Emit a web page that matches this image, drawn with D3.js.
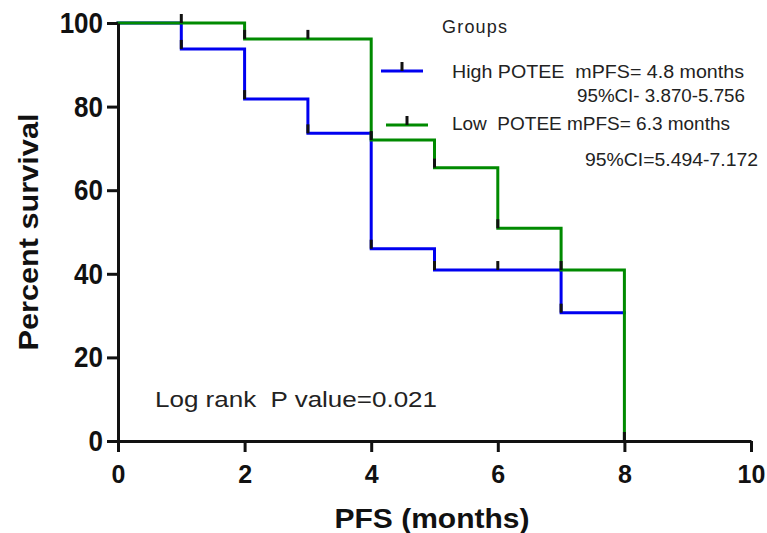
<!DOCTYPE html>
<html>
<head>
<meta charset="utf-8">
<script src="https://cdn.jsdelivr.net/npm/d3@7"></script>
<style>
  html, body { margin: 0; padding: 0; background: #fff; }
  svg { display: block; }
  text { font-family: "Liberation Sans", Arial, sans-serif; white-space: pre; }
</style>
</head>
<body>
<svg id="chart" width="767" height="533"></svg>
<script>
// ---- data ----
const xTicks = [0, 2, 4, 6, 8, 10];
const yTicks = [0, 20, 40, 60, 80, 100];

// High POTEE (blue): step times and survival after each step
const highTimes = [0, 1, 2, 3, 4, 5, 7];
const highSurv  = [100, 93.8, 81.8, 73.6, 46.0, 40.9, 30.7];
const highEnd = 8;
const highCensorTimes = [6];

// Low POTEE (green)
const lowTimes = [0, 2, 4, 5, 6, 7, 8];
const lowSurv  = [100, 96.2, 72.0, 65.4, 50.9, 40.9, 0];
const lowEnd = 8;
const lowCensorTimes = [1, 3];

const legendLabels = ["High POTEE  mPFS= 4.8 months", "Low  POTEE mPFS= 6.3 months"];
const ciLabels = ["95%CI- 3.870-5.756", "95%CI=5.494-7.172"];
const pText = "Log rank  P value=0.021";

const BLUE = "#0000f0", GREEN = "#008a00";

// ---- scales ----
const svg = d3.select("#chart");
const x = d3.scaleLinear().domain([0, 10]).range([118, 751]);
const y = d3.scaleLinear().domain([0, 100]).range([441, 23]);

function stepPoints(times, surv, end) {
  const pts = [[times[0], surv[0]]];
  for (let i = 1; i < times.length; i++) {
    pts.push([times[i], surv[i - 1]]);
    pts.push([times[i], surv[i]]);
  }
  if (end > times[times.length - 1]) pts.push([end, surv[surv.length - 1]]);
  return pts;
}
function survAt(times, surv, t) {
  let v = surv[0];
  for (let i = 0; i < times.length; i++) if (times[i] <= t) v = surv[i];
  return v;
}
const line = d3.line().x(d => x(d[0])).y(d => y(d[1])).curve(d3.curveLinear);

const series = [
  {times: highTimes, surv: highSurv, end: highEnd, censor: highCensorTimes, color: BLUE},
  {times: lowTimes, surv: lowSurv, end: lowEnd, censor: lowCensorTimes, color: GREEN}
];

// curves
series.forEach(s => {
  svg.append("path")
    .attr("d", line(stepPoints(s.times, s.surv, s.end)))
    .attr("fill", "none").attr("stroke", s.color).attr("stroke-width", 3)
    .attr("stroke-linejoin", "miter").attr("stroke-linecap", "square");
});
// black marks at the foot of each drop
series.forEach(s => {
  for (let i = 1; i < s.times.length; i++) {
    svg.append("line")
      .attr("x1", x(s.times[i])).attr("x2", x(s.times[i]))
      .attr("y1", y(s.surv[i]) - 9).attr("y2", y(s.surv[i]))
      .attr("stroke", "#111").attr("stroke-width", 3);
  }
});
// censor ticks
series.forEach(s => {
  s.censor.forEach(t => {
    const v = survAt(s.times, s.surv, t);
    svg.append("line")
      .attr("x1", x(t)).attr("x2", x(t))
      .attr("y1", y(v) - 9).attr("y2", y(v))
      .attr("stroke", "#111").attr("stroke-width", 3);
  });
});

// axes
const xAxis = svg.append("g").attr("transform", `translate(0,${y(0)})`)
  .call(d3.axisBottom(x).tickValues(xTicks).tickSize(11).tickSizeOuter(0).tickPadding(13));
const yAxis = svg.append("g").attr("transform", `translate(${x(0)},0)`)
  .call(d3.axisLeft(y).tickValues(yTicks).tickSize(11).tickSizeOuter(0).tickPadding(4));
[xAxis, yAxis].forEach(g => {
  g.select(".domain").attr("stroke", "#111").attr("stroke-width", 3);
  g.selectAll(".tick line").attr("stroke", "#111").attr("stroke-width", 3);
  g.selectAll(".tick text").attr("fill", "#111")
    .style("font-family", '"Liberation Sans", Arial, sans-serif').style("font-weight", "bold");
});
xAxis.selectAll(".tick text").style("font-size", "25px");
yAxis.selectAll(".tick text").style("font-size", "26px").attr("transform", "scale(1,1.13)");

// axis titles
svg.append("text").attr("x", 432).attr("y", 528).attr("text-anchor", "middle")
  .style("font-size", "28px").style("font-weight", "bold").attr("fill", "#111")
  .attr("textLength", 195).attr("lengthAdjust", "spacingAndGlyphs")
  .text("PFS (months)");
svg.append("text").attr("transform", "translate(38,232) rotate(-90)").attr("text-anchor", "middle")
  .style("font-size", "28px").style("font-weight", "bold").attr("fill", "#111")
  .attr("textLength", 237).attr("lengthAdjust", "spacingAndGlyphs")
  .text("Percent survival");

// legend
svg.append("text").attr("x", 442).attr("y", 33).style("font-size", "18px").attr("fill", "#222")
  .attr("textLength", 65).text("Groups");
const legY = [71, 125], legX0 = [381, 386];
const legTextX = [452, 452], legTextY = [78, 130], legTextLen = [292, 278];
const ciX = [745, 758], ciY = [102, 166], ciLen = [168, 173];
series.forEach((s, i) => {
  svg.append("line").attr("x1", legX0[i]).attr("x2", legX0[i] + 42)
    .attr("y1", legY[i]).attr("y2", legY[i]).attr("stroke", s.color).attr("stroke-width", 3);
  svg.append("line").attr("x1", legX0[i] + 21).attr("x2", legX0[i] + 21)
    .attr("y1", legY[i] - 9).attr("y2", legY[i]).attr("stroke", "#111").attr("stroke-width", 3);
  svg.append("text").attr("x", legTextX[i]).attr("y", legTextY[i])
    .style("font-size", "18px").attr("fill", "#222")
    .attr("textLength", legTextLen[i]).attr("lengthAdjust", "spacingAndGlyphs")
    .text(legendLabels[i]);
  svg.append("text").attr("x", ciX[i] - ciLen[i]).attr("y", ciY[i])
    .style("font-size", "18px").attr("fill", "#222")
    .attr("textLength", ciLen[i]).attr("lengthAdjust", "spacingAndGlyphs")
    .text(ciLabels[i]);
});

// p value
svg.append("text").attr("x", 155).attr("y", 407).style("font-size", "22px").attr("fill", "#222")
  .attr("textLength", 282).attr("lengthAdjust", "spacingAndGlyphs").text(pText);
</script>
</body>
</html>
